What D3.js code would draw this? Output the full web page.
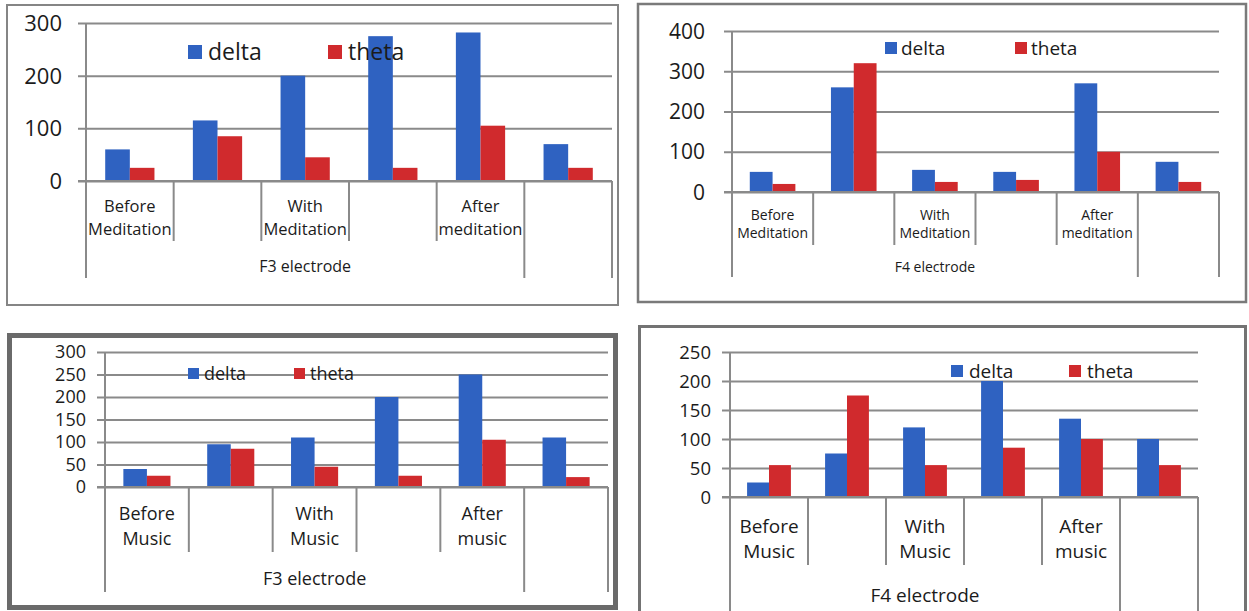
<!DOCTYPE html>
<html>
<head>
<meta charset="utf-8">
<script src="https://cdn.jsdelivr.net/npm/d3@7"></script>
<style>
  html, body { margin: 0; padding: 0; background: #fff; }
  svg { display: block; }
  text { font-family: "Open Sans", "Noto Sans", sans-serif; fill: #1b1b1b; }
</style>
</head>
<body>
<svg id="chart" width="1249" height="611"></svg>
<script>
// Band-power series (delta / theta) per session stage
const seriesNames = ["delta", "theta"];
const seriesColors = ["#2f62c1", "#d02a2d"];

const meditationLabels = [["Before", "Meditation"], [], ["With", "Meditation"], [], ["After", "meditation"], []];
const musicLabels = [["Before", "Music"], [], ["With", "Music"], [], ["After", "music"], []];

const f3MeditationDelta = [60, 115, 200, 275, 282, 70];
const f3MeditationTheta = [25, 85, 45, 25, 105, 25];

const f4MeditationDelta = [50, 260, 55, 50, 270, 75];
const f4MeditationTheta = [20, 320, 25, 30, 100, 25];

const f3MusicDelta = [40, 95, 110, 200, 250, 110];
const f3MusicTheta = [25, 85, 45, 25, 105, 22];

const f4MusicDelta = [25, 75, 120, 200, 135, 100];
const f4MusicTheta = [55, 175, 55, 85, 100, 55];

const ticksF3Meditation = [0, 100, 200, 300];
const ticksF4Meditation = [0, 100, 200, 300, 400];
const ticksF3Music = [0, 50, 100, 150, 200, 250, 300];
const ticksF4Music = [0, 50, 100, 150, 200, 250];

// number of leading categories that belong to the electrode group
const groupSpan = 5;

const panels = [
  {
    group: "F3 electrode", labels: meditationLabels, values: [f3MeditationDelta, f3MeditationTheta], ticks: ticksF3Meditation,
    frame: { x: 7, y: 5, w: 611, h: 300, stroke: "#858585", sw: 2 },
    plot: { left: 86, right: 612, top: 23, bottom: 181 },
    tickFont: 22, tickGap: 24, catFont: 16.5, catDy: [31, 54], groupFont: 16, groupY: 272,
    innerBottom: 241, longBottom: 278,
    legend: { x: [188, 328], y: 45, sq: 14, font: 23, dx: 20, base: 60 }
  },
  {
    group: "F4 electrode", labels: meditationLabels, values: [f4MeditationDelta, f4MeditationTheta], ticks: ticksF4Meditation,
    frame: { x: 638, y: 4, w: 608, h: 298, stroke: "#7a7a7a", sw: 2.5 },
    plot: { left: 732, right: 1219, top: 31, bottom: 192 },
    tickFont: 21, tickGap: 27, catFont: 14, catDy: [28, 46], groupFont: 14, groupY: 272,
    innerBottom: 245, longBottom: 277,
    legend: { x: [885, 1015], y: 42, sq: 12, font: 19, dx: 16, base: 55 }
  },
  {
    group: "F3 electrode", labels: musicLabels, values: [f3MusicDelta, f3MusicTheta], ticks: ticksF3Music,
    frame: { x: 9.5, y: 335.5, w: 606, h: 272, stroke: "#6a6a6a", sw: 5 },
    plot: { left: 105, right: 608, top: 352, bottom: 487 },
    tickFont: 18, tickGap: 19, catFont: 18, catDy: [33, 58], groupFont: 18, groupY: 585,
    innerBottom: 552, longBottom: 592,
    legend: { x: [188, 294], y: 368, sq: 11, font: 18, dx: 16, base: 380 }
  },
  {
    group: "F4 electrode", labels: musicLabels, values: [f4MusicDelta, f4MusicTheta], ticks: ticksF4Music,
    frame: { x: 639.5, y: 326.5, w: 606, h: 300, stroke: "#737373", sw: 3 },
    plot: { left: 730, right: 1198, top: 352, bottom: 497 },
    tickFont: 18.5, tickGap: 19, catFont: 19, catDy: [36, 61], groupFont: 19, groupY: 602,
    innerBottom: 565, longBottom: 620,
    legend: { x: [951, 1069], y: 365, sq: 12, font: 19, dx: 18, base: 378 }
  }
];

const svg = d3.select("#chart");
const gridColor = "#8a8a8a";

panels.forEach(p => {
  const g = svg.append("g");
  const n = p.labels.length;
  const cats = d3.range(n);

  // frame
  g.append("rect")
    .attr("x", p.frame.x).attr("y", p.frame.y)
    .attr("width", p.frame.w).attr("height", p.frame.h)
    .attr("fill", "#fff").attr("stroke", p.frame.stroke).attr("stroke-width", p.frame.sw);

  const x = d3.scaleBand().domain(cats).range([p.plot.left, p.plot.right]).paddingInner(0).paddingOuter(0);
  const xs = d3.scaleBand().domain(seriesNames).range([0, x.bandwidth()]).paddingInner(0).paddingOuter(0.78);
  const y = d3.scaleLinear().domain([0, d3.max(p.ticks)]).range([p.plot.bottom, p.plot.top]);

  // horizontal gridlines with short outward tick marks
  const yAxis = d3.axisLeft(y).tickValues(p.ticks).tickSize(-(p.plot.right - p.plot.left)).tickSizeOuter(0).tickFormat("");
  const ga = g.append("g").attr("transform", `translate(${p.plot.left},0)`).call(yAxis);
  ga.select(".domain").remove();
  ga.selectAll(".tick line")
    .attr("x1", -8)
    .attr("stroke", gridColor).attr("stroke-width", 2);

  // y tick labels
  g.append("g").selectAll("text").data(p.ticks).join("text")
    .attr("x", p.plot.left - p.tickGap)
    .attr("y", d => y(d))
    .attr("dy", "0.36em")
    .attr("text-anchor", "end")
    .attr("font-size", p.tickFont)
    .text(d => d);

  // vertical axis line
  g.append("line")
    .attr("x1", p.plot.left).attr("x2", p.plot.left)
    .attr("y1", p.plot.top).attr("y2", p.plot.bottom)
    .attr("stroke", gridColor).attr("stroke-width", 2);

  // bars
  p.values.forEach((vals, si) => {
    g.append("g").selectAll("rect").data(cats).join("rect")
      .attr("x", i => x(i) + xs(seriesNames[si]))
      .attr("width", xs.bandwidth())
      .attr("y", i => y(vals[i]))
      .attr("height", i => y(0) - y(vals[i]))
      .attr("fill", seriesColors[si]);
  });

  // baseline redrawn on top of bars
  g.append("line")
    .attr("x1", p.plot.left - 8).attr("x2", p.plot.right)
    .attr("y1", y(0)).attr("y2", y(0))
    .attr("stroke", gridColor).attr("stroke-width", 2);

  // category dividers: long ones close the electrode group and the trailing category
  const bounds = d3.range(n + 1);
  g.append("g").selectAll("line").data(bounds).join("line")
    .attr("x1", i => i < n ? x(i) : p.plot.right)
    .attr("x2", i => i < n ? x(i) : p.plot.right)
    .attr("y1", y(0))
    .attr("y2", i => (i === 0 || i === groupSpan || i === n) ? p.longBottom : p.innerBottom)
    .attr("stroke", gridColor).attr("stroke-width", 2);

  // category labels (two lines)
  const cl = g.append("g").selectAll("text").data(cats).join("text")
    .attr("text-anchor", "middle")
    .attr("font-size", p.catFont);
  cl.each(function (i) {
    const t = d3.select(this);
    p.labels[i].forEach((line, li) => {
      t.append("tspan")
        .attr("x", x(i) + x.bandwidth() / 2)
        .attr("y", y(0) + p.catDy[li])
        .text(line);
    });
  });

  // electrode group label
  g.append("text")
    .attr("x", (x(0) + x(groupSpan)) / 2)
    .attr("y", p.groupY)
    .attr("text-anchor", "middle")
    .attr("font-size", p.groupFont)
    .text(p.group);

  // legend
  const lg = g.append("g");
  seriesNames.forEach((name, si) => {
    lg.append("rect")
      .attr("x", p.legend.x[si]).attr("y", p.legend.y)
      .attr("width", p.legend.sq).attr("height", p.legend.sq)
      .attr("fill", seriesColors[si]);
    lg.append("text")
      .attr("x", p.legend.x[si] + p.legend.dx)
      .attr("y", p.legend.base)
      .attr("font-size", p.legend.font)
      .text(name);
  });
});
</script>
</body>
</html>
